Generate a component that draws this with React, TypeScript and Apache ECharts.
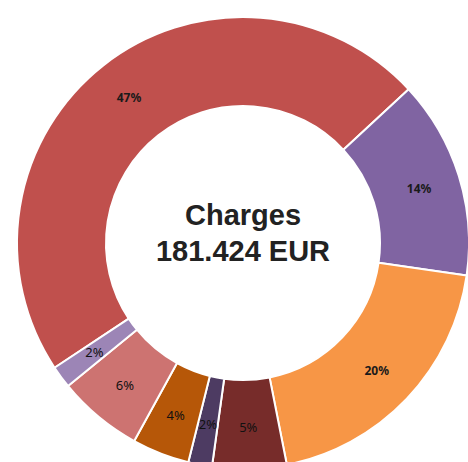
import React, { useEffect, useRef } from "react";
import * as echarts from "echarts";

const categories = ["A", "B", "C", "D", "E", "F", "G", "H"];
const values = [85.994, 25.76, 35.56, 9.62, 3.08, 7.44, 11.07, 2.9];
const colors = ["#C0504D", "#8064A2", "#F79646", "#772C2A", "#4D3B62", "#B65708", "#CD7371", "#9C85B6"];
const boldLabel = [true, true, true, false, false, false, false, false];
const centerTitle = "Charges";
const centerValue = "181.424 EUR";

export default function App() {
  const ref = useRef<HTMLDivElement>(null);
  useEffect(() => {
    document.body.style.margin = "0";
    const chart = echarts.init(ref.current!, null, { renderer: "svg" });
    chart.setOption({
      animation: false,
      backgroundColor: "#ffffff",
      graphic: [
        {
          type: "text",
          x: 243,
          y: 215,
          style: {
            text: centerTitle,
            textAlign: "center",
            textVerticalAlign: "middle",
            font: "bold 29px 'Liberation Sans', Arial, sans-serif",
            fill: "#222222",
          },
        },
        {
          type: "text",
          x: 243,
          y: 251,
          style: {
            text: centerValue,
            textAlign: "center",
            textVerticalAlign: "middle",
            font: "bold 29px 'Liberation Sans', Arial, sans-serif",
            fill: "#222222",
          },
        },
      ],
      series: [
        {
          type: "pie",
          center: [243, 243],
          radius: [137, 226],
          startAngle: 213.5,
          clockwise: true,
          avoidLabelOverlap: false,
          itemStyle: { borderColor: "#ffffff", borderWidth: 2 },
          label: {
            show: true,
            position: "inside",
            formatter: (p: any) => Math.round(p.percent) + "%",
            fontFamily: "'Noto Sans', sans-serif",
            fontWeight: "bold",
            fontSize: 12,
            color: "#1a1a1a",
          },
          labelLine: { show: false },
          emphasis: { disabled: true },
          data: categories.map((c, i) => ({
            name: c,
            value: values[i],
            itemStyle: { color: colors[i] },
            label: boldLabel[i]
              ? { fontWeight: "bold", fontSize: 12 }
              : { fontWeight: "normal", fontSize: 13, color: "#111111" },
          })),
        },
      ],
    });
    return () => chart.dispose();
  }, []);
  return <div ref={ref} style={{ width: 468, height: 462 }} />;
}
